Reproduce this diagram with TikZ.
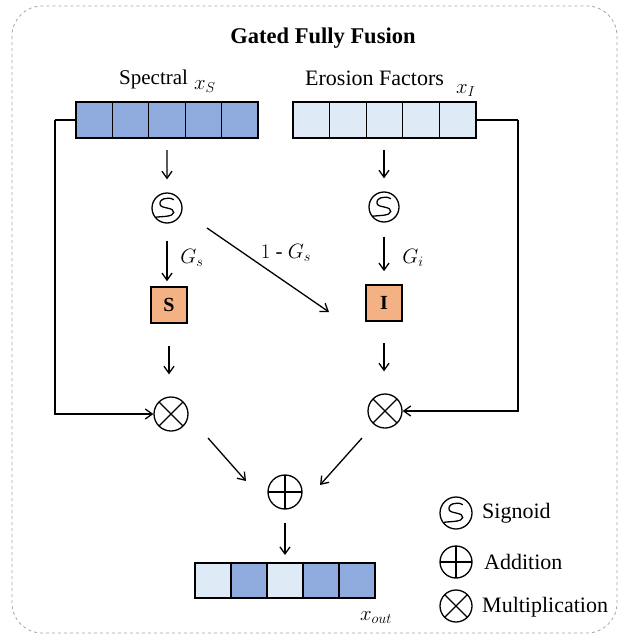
\documentclass[tikz,border=0pt]{standalone}
\usepackage{fontspec}
\setmainfont{Liberation Serif}
\usetikzlibrary{arrows.meta}

\definecolor{featdark}{HTML}{8FAADC}
\definecolor{featlight}{HTML}{DEEBF7}
\definecolor{gatefill}{HTML}{F4B183}
\definecolor{framegray}{HTML}{A6A6A6}

\tikzset{
  cell/.style={draw, line width=1.3pt, minimum width=36.4pt, minimum height=36pt,
    inner sep=0pt, outer sep=0pt},
  gatebox/.style={draw, line width=1.6pt, fill=gatefill, minimum size=36pt,
    inner sep=0pt, font=\bfseries\fontsize{20}{22}\selectfont},
  arr/.style={line width=1.3pt, -{Straight Barb[length=7pt,width=10pt,line width=1.3pt]}},
  link/.style={line width=1.3pt},
  opcirc/.style={circle, draw, line width=1.3pt, minimum size=34pt, inner sep=0pt},
  multop/.style={opcirc, path picture={
      \draw[line width=1.3pt] (path picture bounding box.north east) -- (path picture bounding box.south west)
        (path picture bounding box.north west) -- (path picture bounding box.south east);}},
  addop/.style={opcirc, path picture={
      \draw[line width=1.3pt] (path picture bounding box.north) -- (path picture bounding box.south)
        (path picture bounding box.west) -- (path picture bounding box.east);}},
  sigop/.style={circle, draw, line width=1.3pt, minimum size=30pt, inner sep=0pt, path picture={
      \draw[line width=1.3pt, shift={(path picture bounding box.center)}, x=15pt, y=15pt]
        (0.45,0.55) .. controls (0.1,0.8) and (-0.6,0.6) .. (-0.45,0.2)
        .. controls (-0.35,-0.05) and (0.5,0.05) .. (0.45,-0.3)
        .. controls (0.4,-0.6) and (-0.3,-0.55) .. (-0.8,-0.62);}},
  txt/.style={font=\fontsize{21}{24}\selectfont, inner sep=0pt},
  legtxt/.style={font=\fontsize{22}{25}\selectfont, inner sep=0pt, anchor=west},
  mlab/.style={font=\fontsize{21}{24}\selectfont, inner sep=0pt}
}

\begin{document}
\begin{tikzpicture}[x=1pt, y=-1pt]
\useasboundingbox (0,0) rectangle (622,637);

% outer frame
\draw[framegray, dashed, line width=0.8pt, rounded corners=30pt] (12,6) rectangle (617,633);

% title
\node[font=\bfseries\fontsize{22.5}{26}\selectfont, inner sep=0pt] (title) at (323,38) {Gated Fully Fusion};

% input labels
\node[txt, anchor=base west] (speclab) at (119,84) {Spectral};
\node[mlab, anchor=base west] (xs) at (194,89) {$x_S$};
\node[txt, font=\fontsize{22}{25}\selectfont, anchor=base west] (erolab) at (305,85) {Erosion Factors};
\node[mlab, anchor=base west] (xi) at (456,93) {$x_I$};

% spectral feature vector
\foreach \k in {1,...,5}
  \node[cell, fill=featdark] (s\k) at ({76+36.4*(\k-0.5)},120) {};
% erosion factor vector
\foreach \k in {1,...,5}
  \node[cell, fill=featlight, minimum width=36.6pt] (e\k) at ({293+36.6*(\k-0.5)},120) {};

% sigmoid gates
\node[sigop] (sgl) at (167,208) {};
\node[sigop] (sgr) at (384,207) {};

% gate boxes
\node[gatebox] (sbox) at (169,305) {S};
\node[gatebox] (ibox) at (384,303) {I};

% multiplication nodes
\node[multop] (ml) at (171,414) {};
\node[multop] (mr) at (385,411) {};

% addition node
\node[addop] (add) at (285,492) {};

% output vector
\node[cell, fill=featlight, minimum width=36pt, minimum height=35pt] (o1) at (213,580.5) {};
\node[cell, fill=featdark,  minimum width=36pt, minimum height=35pt] (o2) at (249,580.5) {};
\node[cell, fill=featlight, minimum width=36pt, minimum height=35pt] (o3) at (285,580.5) {};
\node[cell, fill=featdark,  minimum width=36pt, minimum height=35pt] (o4) at (321,580.5) {};
\node[cell, fill=featdark,  minimum width=36pt, minimum height=35pt] (o5) at (357,580.5) {};
\node[mlab, anchor=base] (xout) at (376,620) {$x_{out}$};

% vertical flow
\draw[arr, shorten <=12pt, shorten >=13pt] (s3.south) -- (sgl.north);
\draw[arr, shorten <=12pt, shorten >=13pt] (e3.south -| sgr.north) -- (sgr.north);
\draw[arr, shorten <=17pt, shorten >=5pt] (sgl.south) -- (sgl.south |- sbox.north);
\draw[arr, shorten <=14pt, shorten >=13pt] (sgr.south) -- (sgr.south |- ibox.north);
\draw[arr, shorten <=22pt, shorten >=22pt] (sbox.south) -- (sbox.south |- ml.north);
\draw[arr, shorten <=21pt, shorten >=22pt] (ibox.south) -- (ibox.south |- mr.north);

% gate labels
\node[mlab] (gs) at (192,258) {$G_s$};
\node[mlab] (gi) at (413,258) {$G_i$};
\node[mlab] (ngs) at (286,253) {$1$ - $G_s$};

% cross gate 1 - G_s
\draw[arr] ([shift={(40,20)}]sgl.center) -- ([shift={(-55,9)}]ibox.center);

% skip connections
\draw[link] (s1.west) -- ++(-21,0) coordinate (lc);
\draw[arr] (lc) |- (ml.west);
\draw[link] (e5.east) -- ++(42,0) coordinate (rc);
\draw[arr] (rc) |- (mr.east);

% fusion
\draw[arr] ([shift={(37,24)}]ml.center) -- ([shift={(-39,-11)}]add.center);
\draw[arr] ([shift={(-23,27)}]mr.center) -- ([shift={(35,-7)}]add.center);
\draw[arr, shorten <=13pt, shorten >=8pt] (add.south) -- (o3.north);

% legend
\node[sigop, minimum size=32pt] (lgs) at (456,513) {};
\node[addop, minimum size=32pt] (lga) at (456,562) {};
\node[multop, minimum size=32pt] (lgm) at (456,606) {};
\node[legtxt] (lgst) at (482,513) {Signoid};
\node[legtxt] (lgat) at (484,562) {Addition};
\node[legtxt] (lgmt) at (482,607) {Multiplication};
\end{tikzpicture}
\end{document}
